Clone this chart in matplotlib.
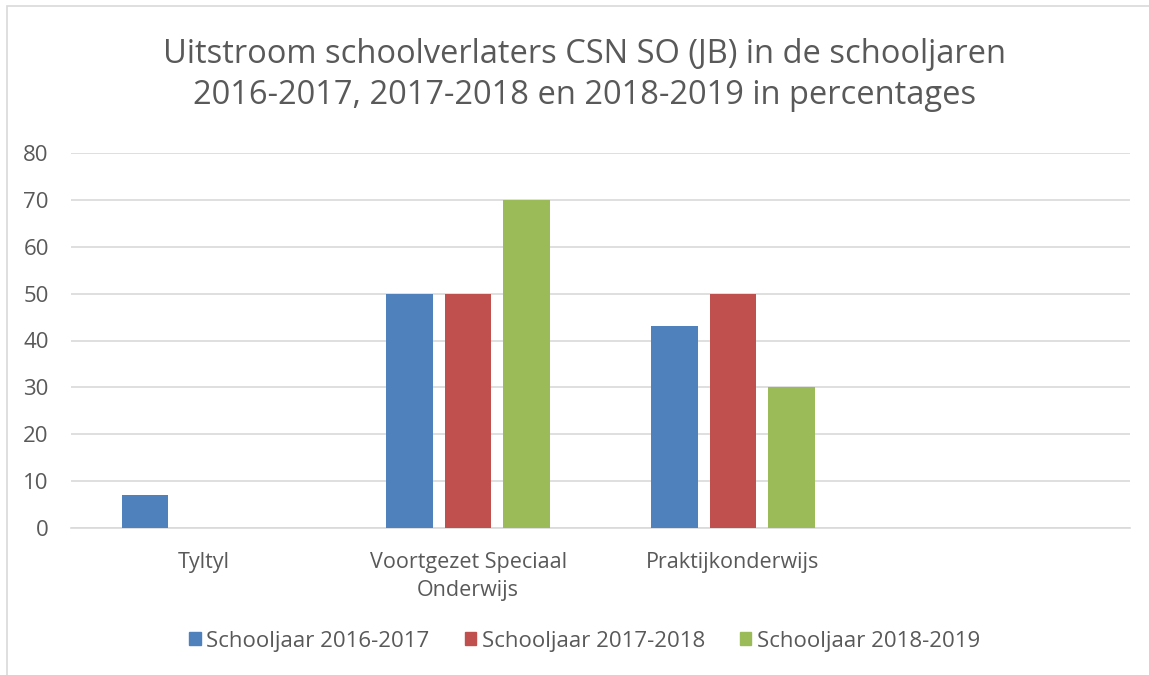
import matplotlib.pyplot as plt
from matplotlib.patches import Rectangle, Patch
import numpy as np

plt.rcParams['font.family'] = ['Open Sans', 'DejaVu Sans']

categories = ['Tyltyl', 'Voortgezet Speciaal\nOnderwijs', 'Praktijkonderwijs', '']
series_names = ['Schooljaar 2016-2017', 'Schooljaar 2017-2018', 'Schooljaar 2018-2019']
values_2016 = [7, 50, 43, 0]
values_2017 = [0, 50, 50, 0]
values_2018 = [0, 70, 30, 0]
colors = ['#4f81bd', '#c0504d', '#9bbb59']
title = 'Uitstroom schoolverlaters CSN SO (JB) in de schooljaren\n2016-2017, 2017-2018 en 2018-2019 in percentages'

W, H = 1149, 675
fig = plt.figure(figsize=(W / 100, H / 100), dpi=100)
ax = fig.add_axes([71 / W, 1 - 528 / H, (1130 - 71) / W, (528 - 153) / H])

# chart frame
fig.patches.append(Rectangle((7 / W, -0.05), 1.1, 1 - 6 / H + 0.05, transform=fig.transFigure,
                             fill=False, edgecolor='#d9d9d9', linewidth=1.2))

x = np.arange(len(categories))
width = 0.175
step = 0.221
all_values = [values_2016, values_2017, values_2018]
for i, vals in enumerate(all_values):
    ax.bar(x + (i - 1) * step, vals, width=width, color=colors[i], zorder=3)

ax.set_xlim(-0.5, len(categories) - 0.5)
ax.set_ylim(0, 80)
ax.set_yticks(range(0, 81, 10))
ax.set_xticks(x)
ax.set_xticklabels(categories)
ax.grid(axis='y', color='#d9d9d9', linewidth=1.2, zorder=0)
ax.set_axisbelow(True)
for s in ['top', 'right', 'left']:
    ax.spines[s].set_visible(False)
ax.spines['bottom'].set_color('#d9d9d9')
ax.spines['bottom'].set_linewidth(1.2)
ax.tick_params(length=0, colors='#595959')
ax.tick_params(axis='y', pad=16, labelsize=16)
ax.tick_params(axis='x', pad=17, labelsize=15.5)
for lbl in ax.get_xticklabels():
    lbl.set_linespacing(1.45)

fig.text(0.509, 1 - 75 / H, title, ha='center', va='center', fontsize=23.5,
         color='#595959', linespacing=1.35)

handles = [Patch(color=c) for c in colors]
fig.legend(handles, series_names, loc='center', bbox_to_anchor=(0.509, 1 - 641 / H), ncol=3,
           frameon=False, fontsize=16, handlelength=0.5, handleheight=0.5,
           handletextpad=0.25, columnspacing=1.6, labelcolor='#595959')

fig.savefig('out.png', dpi=100, facecolor='white')
